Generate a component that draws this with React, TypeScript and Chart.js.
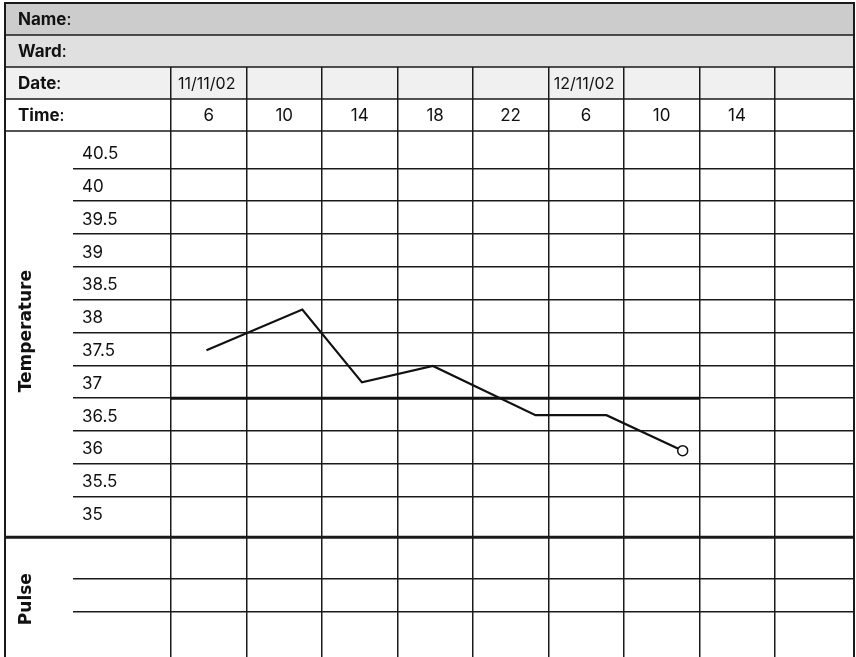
import React, { useEffect, useRef } from 'react';
import { Chart, registerables } from 'chart.js';

Chart.register(...registerables);

// ---- data ----
const headerLabels = ['Name', 'Ward', 'Date', 'Time'];
const dateLabels = ['11/11/02', '', '', '', '', '12/11/02', '', '', ''];
const timeLabels = ['6', '10', '14', '18', '22', '6', '10', '14', ''];
const tempRowLabels = ['40.5', '40', '39.5', '39', '38.5', '38', '37.5', '37', '36.5', '36', '35.5', '35'];
const tempGridValues = [35.5, 36, 36.5, 37, 37.5, 38, 38.5, 39, 39.5, 40, 40.5];
const tempX = [0.47, 1.74, 2.53, 3.47, 4.83, 5.77, 6.78];
const tempY = [37.73, 38.35, 37.24, 37.49, 36.74, 36.74, 36.2];
const normalTemp = 37;
const normalSpan = [0, 7];
const pulseGridValues = [0.378, 0.652];

const NUM_FONT = 'Inter, "DejaVu Sans", sans-serif';
const TITLE_FONT = '"DejaVu Sans", sans-serif';
const LINE = '#1a1a1a';
const FRAME_LEFT = 5;
const FRAME_TOP = 3;
const LABEL_COL = 98;

const tablePlugin = {
  id: 'tablePlugin',
  beforeDraw(chart: any) {
    const { ctx, chartArea } = chart;
    const rowH = (chartArea.top - FRAME_TOP) / 4;
    const fills = ['#cccccc', '#e0e0e0', '#f0f0f0', '#ffffff'];
    ctx.save();
    ctx.fillStyle = '#ffffff';
    ctx.fillRect(0, 0, chart.width, chart.height);
    fills.forEach((c, i) => {
      ctx.fillStyle = c;
      ctx.fillRect(FRAME_LEFT, FRAME_TOP + i * rowH, chartArea.right - FRAME_LEFT, rowH);
    });
    ctx.restore();
  },
  afterDraw(chart: any) {
    const { ctx, chartArea, scales } = chart;
    const xs = scales.x;
    const ys = scales.y;
    const ps = scales.pulse;
    const rowH = (chartArea.top - FRAME_TOP) / 4;
    const right = chartArea.right;
    ctx.save();
    ctx.strokeStyle = LINE;
    ctx.lineWidth = 1.5;
    for (let i = 1; i <= 4; i++) {
      const yy = FRAME_TOP + i * rowH;
      ctx.beginPath();
      ctx.moveTo(FRAME_LEFT, yy);
      ctx.lineTo(right, yy);
      ctx.stroke();
    }
    ctx.lineWidth = 3;
    ctx.beginPath();
    ctx.moveTo(FRAME_LEFT, ys.bottom);
    ctx.lineTo(right, ys.bottom);
    ctx.stroke();
    ctx.lineWidth = 2;
    ctx.beginPath();
    ctx.moveTo(FRAME_LEFT, chart.height);
    ctx.lineTo(FRAME_LEFT, FRAME_TOP);
    ctx.lineTo(right, FRAME_TOP);
    ctx.lineTo(right, chart.height);
    ctx.stroke();

    ctx.fillStyle = '#111';
    ctx.textBaseline = 'middle';
    headerLabels.forEach((lab, i) => {
      const yy = FRAME_TOP + (i + 0.5) * rowH + 1;
      ctx.textAlign = 'left';
      ctx.font = `700 17px ${NUM_FONT}`;
      ctx.fillText(lab, 18, yy);
      const w = ctx.measureText(lab).width;
      ctx.font = `400 17px ${NUM_FONT}`;
      ctx.fillText(':', 18 + w, yy);
    });
    ctx.textAlign = 'center';
    ctx.font = `400 16px ${NUM_FONT}`;
    dateLabels.forEach((lab, i) => {
      if (!lab) return;
      ctx.fillText(lab, xs.getPixelForValue(i + 0.5) - 2, FRAME_TOP + 2.5 * rowH + 1);
    });
    ctx.font = `400 17px ${NUM_FONT}`;
    timeLabels.forEach((lab, i) => {
      if (!lab) return;
      ctx.fillText(lab, xs.getPixelForValue(i + 0.5), FRAME_TOP + 3.5 * rowH + 1);
    });
    ctx.textAlign = 'left';
    tempRowLabels.forEach((lab) => {
      const v = parseFloat(lab);
      ctx.fillText(lab, chartArea.left - LABEL_COL + 9, ys.getPixelForValue(v + 0.25) + 2);
    });
    ctx.font = `700 17px ${TITLE_FONT}`;
    ctx.textAlign = 'center';
    ctx.save();
    ctx.translate(27, (ys.top + ys.bottom) / 2 - 3);
    ctx.rotate(-Math.PI / 2);
    ctx.fillText('Temperature', 0, 0);
    ctx.restore();
    ctx.save();
    ctx.translate(27, (ps.top + ps.bottom) / 2 + 2);
    ctx.rotate(-Math.PI / 2);
    ctx.fillText('Pulse', 0, 0);
    ctx.restore();
    ctx.restore();
  },
};

export default function App() {
  const ref = useRef<HTMLCanvasElement | null>(null);
  useEffect(() => {
    if (!ref.current) return;
    const colEdges = [0, 1, 2, 3, 4, 5, 6, 7, 8];
    const chart = new Chart(ref.current, {
      type: 'line',
      data: {
        datasets: [
          {
            label: 'Temperature',
            data: tempX.map((x, i) => ({ x, y: tempY[i] })),
            borderColor: '#111',
            borderWidth: 2.2,
            pointRadius: tempX.map((_, i) => (i === tempX.length - 1 ? 5 : 0)),
            pointBackgroundColor: '#fff',
            pointBorderColor: '#111',
            pointBorderWidth: 1.5,
            tension: 0,
            xAxisID: 'x',
            yAxisID: 'y',
          },
          {
            label: 'Normal',
            data: normalSpan.map((x) => ({ x, y: normalTemp })),
            borderColor: '#111',
            borderWidth: 3,
            pointRadius: 0,
            xAxisID: 'x',
            yAxisID: 'y',
          },
        ],
      },
      options: {
        animation: false,
        responsive: false,
        devicePixelRatio: 1,
        layout: { autoPadding: false, padding: { left: FRAME_LEFT + 68, top: 67, right: 2, bottom: 0 } },
        plugins: { legend: { display: false }, tooltip: { enabled: false }, title: { display: false } },
        scales: {
          x: {
            type: 'linear',
            position: 'top',
            min: 0,
            max: 9.05,
            afterBuildTicks: (s: any) => {
              s.ticks = colEdges.map((v) => ({ value: v }));
            },
            afterFit: (s: any) => {
              s.height = 64;
            },
            ticks: { display: false },
            grid: { color: LINE, lineWidth: 1.5, drawTicks: true, tickLength: 64 },
            border: { display: false },
          },
          pulse: {
            type: 'linear',
            position: 'left',
            stack: 'left',
            stackWeight: 119.7,
            min: 0,
            max: 1,
            afterBuildTicks: (s: any) => {
              s.ticks = pulseGridValues.map((v) => ({ value: v }));
            },
            afterFit: (s: any) => {
              s.width = LABEL_COL;
            },
            ticks: { display: false },
            grid: { color: LINE, lineWidth: 1.5, drawTicks: true, tickLength: LABEL_COL },
            border: { display: false },
          },
          y: {
            type: 'linear',
            position: 'left',
            stack: 'left',
            stackWeight: 406.3,
            min: 34.88,
            max: 41.07,
            afterBuildTicks: (s: any) => {
              s.ticks = tempGridValues.map((v) => ({ value: v }));
            },
            afterFit: (s: any) => {
              s.width = LABEL_COL;
            },
            ticks: { display: false },
            grid: { color: LINE, lineWidth: 1.5, drawTicks: true, tickLength: LABEL_COL },
            border: { display: false },
          },
        },
      },
      plugins: [tablePlugin],
    } as any);
    return () => chart.destroy();
  }, []);
  return (
    <div style={{ position: 'absolute', left: 0, top: 0, width: 856, height: 657 }}>
      <canvas ref={ref} width={856} height={657} style={{ display: 'block' }} />
    </div>
  );
}
